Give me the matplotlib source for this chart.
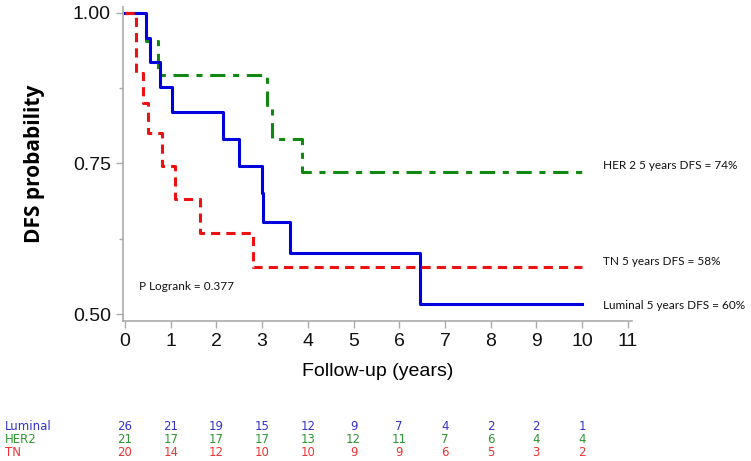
import matplotlib
matplotlib.use('Agg')
import matplotlib.pyplot as plt
from matplotlib.ticker import FixedLocator

# Kaplan-Meier step data (years, DFS probability)
lum_t = [0, 0.47, 0.55, 0.77, 1.03, 2.14, 2.49, 2.99, 3.03, 3.60, 6.45, 10]
lum_s = [1, 0.958, 0.918, 0.877, 0.835, 0.790, 0.746, 0.700, 0.652, 0.601, 0.516, 0.516]

her2_t = [0, 0.47, 0.73, 3.10, 3.21, 3.88, 10]
her2_s = [1, 0.952, 0.896, 0.844, 0.790, 0.736, 0.736]

tn_t = [0, 0.24, 0.40, 0.50, 0.80, 1.09, 1.63, 2.79, 10]
tn_s = [1, 0.900, 0.850, 0.800, 0.745, 0.690, 0.635, 0.578, 0.578]

# numbers at risk, at years 0..10
risk_years = list(range(11))
lum_risk = [26, 21, 19, 15, 12, 9, 7, 4, 2, 2, 1]
her2_risk = [21, 17, 17, 17, 13, 12, 11, 7, 6, 4, 4]
tn_risk = [20, 14, 12, 10, 10, 9, 9, 6, 5, 3, 2]

labels = ['Luminal 5 years DFS = 60%', 'HER 2 5 years DFS = 74%', 'TN 5 years DFS = 58%']
label_y = [0.515, 0.747, 0.588]

fig = plt.figure(figsize=(7.51, 4.61), dpi=100)
ax = fig.add_axes([0.1634, 0.3043, 0.6786, 0.6816])

ax.step(her2_t, her2_s, where='post', color='#118811', lw=2.2, dashes=(5, 2.5, 2, 2.5))
ax.step(lum_t, lum_s, where='post', color='#0000dd', lw=2.2)
ax.step(tn_t, tn_s, where='post', color='#ee1111', lw=2.2, dashes=(3, 2))

ax.set_xlim(-0.05, 11.1)
ax.set_ylim(0.489, 1.01)
ax.set_xticks(range(12))
ax.set_yticks([0.5, 0.75, 1.0])
ax.set_yticklabels(['0.50', '0.75', '1.00'])
ax.yaxis.set_minor_locator(FixedLocator([0.625, 0.875]))

for s in ['top', 'right']:
    ax.spines[s].set_visible(False)
for s in ['left', 'bottom']:
    ax.spines[s].set_color('#aaaaaa')
    ax.spines[s].set_linewidth(1.2)
ax.tick_params(axis='both', which='both', color='#aaaaaa', length=5, width=1)
ax.tick_params(axis='both', which='minor', length=3)
ax.tick_params(axis='both', labelsize=14, labelcolor='#111111')
for lab in ax.get_xticklabels() + ax.get_yticklabels():
    lab.set_family('Liberation Sans')

ax.set_xlabel('Follow-up (years)', fontsize=14, family='Liberation Sans', labelpad=10)
ax.set_ylabel('DFS probability', fontsize=15, fontweight='bold', family='Open Sans', labelpad=20)

for txt, y in zip(labels, label_y):
    ax.text(10.45, y, txt, fontsize=8.5, family='Lato', va='center', ha='left', color='#111111')
ax.text(0.3, 0.545, 'P Logrank = 0.377', fontsize=8.5, family='Lato', va='center', color='#111111')

# numbers at risk table
tr = ax.get_xaxis_transform()
rows = [('Luminal', lum_risk, '#3333cc', -0.338),
        ('HER2', her2_risk, '#2e962e', -0.377),
        ('TN', tn_risk, '#ee3333', -0.418)]
for name, vals, col, y in rows:
    ax.text(-2.63, y, name, transform=tr, color=col, fontsize=8.5,
            family=['Liberation Sans Narrow', 'DejaVu Sans'], va='center', ha='left', clip_on=False)
    for x, v in zip(risk_years, vals):
        ax.text(x, y, str(v), transform=tr, color=col, fontsize=8.5,
                family=['Liberation Sans Narrow', 'DejaVu Sans'], va='center', ha='center', clip_on=False)

fig.savefig('out.png', dpi=100)
